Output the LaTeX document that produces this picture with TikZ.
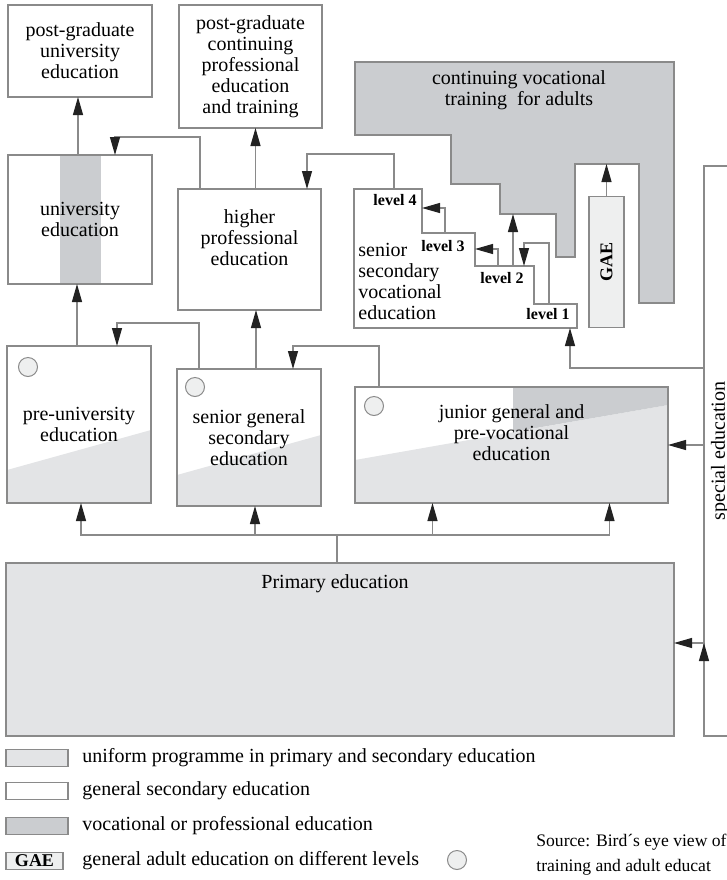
\documentclass[tikz,border=0pt]{standalone}
\usepackage{fontspec}
\setmainfont{Liberation Serif}
\usetikzlibrary{arrows.meta,backgrounds}
\definecolor{uniform}{HTML}{E3E4E6}
\definecolor{vocational}{HTML}{CBCDD0}
\definecolor{gaefill}{HTML}{EEEFEF}
\definecolor{edgegray}{HTML}{8A8A8A}
\definecolor{tipgray}{HTML}{222222}
\tikzset{
    box/.style={
           rectangle,
           draw=edgegray, line width=0.6pt,
           inner sep=0pt, outer sep=0pt,
           align=center,
           font=\fontsize{10}{10.5}\selectfont
           },
    txt/.style={
           inner sep=0pt,
           align=center,
           font=\fontsize{10}{10.5}\selectfont
           },
    lvl/.style={
           inner sep=0pt,
           font=\fontsize{8}{9}\selectfont\bfseries
           },
    dot/.style={
           circle,
           draw=edgegray, fill=gaefill, line width=0.5pt,
           minimum size=9.5pt, inner sep=0pt
           },
    arr/.style={
           draw=edgegray, line width=0.6pt,
           -{Triangle[length=9pt,width=5pt,color=tipgray]}
           },
    link/.style={draw=edgegray, line width=0.6pt}
}
\begin{document}
\begin{tikzpicture}[x=0.5pt, y=-0.5pt]
\useasboundingbox (0,0) rectangle (727,880);
% higher education
\node[box, minimum width=72pt, minimum height=46pt] (pgu) at (80,51) {post-graduate\\university\\education};
\node[box, minimum width=71.5pt, minimum height=61.5pt] (pgc) at (250.5,66.5) {post-graduate\\continuing\\professional\\education\\and training};
\node[box, minimum width=72pt, minimum height=64.5pt] (uni) at (80,219.5) {university\\education};
\node[box, minimum width=71.5pt, minimum height=60.5pt] (hpe) at (249.5,249.5) {};
\node[txt] (hpe-t) at ([yshift=6pt]hpe.center) {higher\\professional\\education};

% vocational column
\draw[draw=edgegray, fill=vocational, line width=0.6pt] (355,62) -- (674,62) -- (674,303) -- (639,303)
   -- (639,164) -- (575,164) -- (575,257) -- (556,257) -- (556,214) -- (500,214) -- (500,184)
   -- (451,184) -- (451,135) -- (355,135) -- cycle;
\node[txt] (cvt) at (519,90) {continuing vocational\\training~ for adults};
\draw[link] (354,189) -- (422,189) -- (422,233) -- (475,233) -- (475,266) -- (534,266)
   -- (534,304) -- (577,304) -- (577,328) -- (354,328) -- cycle;
\node[txt, align=left, anchor=north west] (svt) at (358,243) {senior\\secondary\\vocational\\education};
\node[lvl] (l4) at (395,200) {level 4};
\node[lvl] (l3) at (443,246) {level 3};
\node[lvl] (l2) at (502,278) {level 2};
\node[lvl] (l1) at (548,314) {level 1};
\coordinate (s4) at (422,208);
\coordinate (s3) at (475,249);
\coordinate (s2) at (524,266);
\coordinate (f3) at (445,233);
\coordinate (f2) at (498,266);
\coordinate (f1) at (549,304);
\coordinate (up2) at (513,266);
\coordinate (cvlow) at (513,214);
\coordinate (cvnotch) at (607,164);
\coordinate (svtop) at (394,189);
\coordinate (svbot) at (570,328);
\node[box, fill=gaefill, minimum width=17.5pt, minimum height=65.5pt,
      font=\fontsize{9}{10}\selectfont\bfseries] (gae) at (606.5,262) {\rotatebox{90}{GAE}};
\node[box, minimum width=16pt, minimum height=285pt] (se) at (720,451) {\rotatebox{90}{special education}};

% secondary education
\node[box, minimum width=72pt, minimum height=78.5pt] (pu) at (79,424.5) {pre-university\\education};
\node[box, minimum width=72pt, minimum height=68.5pt] (sg) at (249,437.5) {senior general\\secondary\\education};
\node[box, minimum width=156.5pt, minimum height=58pt] (jg) at (511.5,445) {};
\node[txt] (jg-t) at ([yshift=6pt]jg.center) {junior general and\\pre-vocational\\education};
\node[dot] (pu-c) at (28,367) {};
\node[dot] (sg-c) at (195,387) {};
\node[dot] (jg-c) at (374,406) {};

% primary
\node[box, fill=uniform, minimum width=334pt, minimum height=86.5pt] (pe) at (340,649.5) {};
\node[txt] (pe-t) at (335,584) {Primary education};
\coordinate (split) at (337,535);

\begin{scope}[on background layer]
\fill[vocational] ([xshift=26pt]uni.north west) rectangle ([xshift=46.5pt]uni.south west);
\fill[uniform] (pu.south west) -- ([yshift=16.5pt]pu.south west) -- ([yshift=36.5pt]pu.south east) -- (pu.south east) -- cycle;
\fill[uniform] (sg.south west) -- ([yshift=15.5pt]sg.south west) -- ([yshift=35.5pt]sg.south east) -- (sg.south east) -- cycle;
\fill[uniform] (jg.south west) -- ([yshift=21.5pt]jg.south west) -- ([yshift=49pt]jg.south east) -- (jg.south east) -- cycle;
\fill[vocational] ([xshift=79pt]jg.north west) -- (jg.north east) -- ([yshift=49pt]jg.south east)
   -- ([xshift=79pt,yshift=35.5pt]jg.south west) -- cycle;
\end{scope}

% connectors
\path[arr]
    ([xshift=-1pt]uni.north) edge ([xshift=-1pt]uni.north |- pgu.south)
    ([xshift=3pt]hpe.north) edge ([xshift=3pt]hpe.north |- pgc.south)
    ([xshift=-1pt]pu.north) edge ([xshift=-1pt]pu.north |- uni.south)
    ([xshift=3.5pt]sg.north) edge ([xshift=3.5pt]sg.north |- hpe.south)
    (gae.north) edge (gae.north |- cvnotch)
    (up2) edge (cvlow)
    (se.west |- jg.east) edge (jg.east)
    (se.west |- 0,643) edge (pe.east |- 0,643);
\draw[arr] ([xshift=11pt]hpe.north west) -- ++(0,-52) -| ([xshift=-18.5pt]uni.north east);
\draw[arr] (svtop) -- ++(0,-35) -| ([xshift=-7pt]hpe.north east);
\draw[arr] ([xshift=11pt]sg.north west) -- ++(0,-46) -| ([xshift=-17pt]pu.north east);
\draw[arr] ([xshift=12pt]jg.north west) -- ++(0,-41) -| ([xshift=-14pt]sg.north east);
\draw[arr] (se.west |- 0,368) -| (svbot);
\draw[arr] (f3) |- (s4);
\draw[arr] (f2) |- (s3);
\draw[arr] (f1) -- ++(0,-61) -| (s2);
\draw[link] (split |- pe.north) -- (split);
\draw[arr] (split) -| ([xshift=1pt]pu.south);
\draw[arr] (split) -| ([xshift=3pt]sg.south);
\draw[arr] (split) -| ([xshift=-39.5pt]jg.south);
\draw[arr] (split) -| ([xshift=49pt]jg.south);

% legend
\node[box, fill=uniform, minimum width=31pt, minimum height=8.5pt] (sw1) at (37,758) {};
\node[box, fill=white, minimum width=31pt, minimum height=8.5pt] (sw2) at (37,791) {};
\node[box, fill=vocational, minimum width=31pt, minimum height=8.5pt] (sw3) at (37,826) {};
\node[box, fill=gaefill, minimum width=28.5pt, minimum height=8.5pt,
      font=\fontsize{9}{10}\selectfont\bfseries] (sw4) at (34.5,861) {GAE};
\node[txt, anchor=west] (lg1) at (82,758) {uniform programme in primary and secondary education};
\node[txt, anchor=west] (lg2) at (82,791) {general secondary education};
\node[txt, anchor=west] (lg3) at (82,826) {vocational or professional education};
\node[txt, anchor=west] (lg4) at (82,861) {general adult education on different levels};
\node[dot] (lg-c) at (457,860) {};
\node[txt, anchor=west, font=\fontsize{8.8}{10}\selectfont] (src1) at (536,842) {Source: Bird´s eye view of};
\node[txt, anchor=west, font=\fontsize{8.8}{10}\selectfont] (src2) at (536,867) {training and adult educat};
\end{tikzpicture}
\end{document}
